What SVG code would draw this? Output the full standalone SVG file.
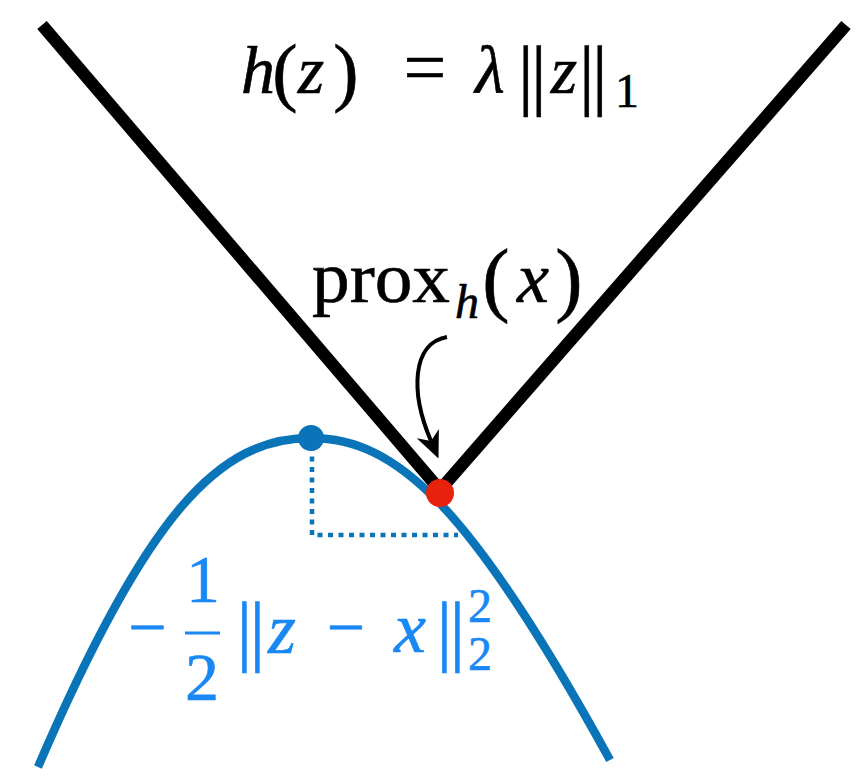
<svg xmlns="http://www.w3.org/2000/svg" width="864" height="776" viewBox="0 0 864 776">
<style>
text{font-family:'Liberation Serif','Times New Roman','DejaVu Serif',serif;text-anchor:middle}
.k{fill:#000;stroke:#000;stroke-width:0.6}
.b{fill:#1a88f4;stroke:#1a88f4;stroke-width:0.6}
.i{font-style:italic}
.bar{font-size:78px;letter-spacing:-2.5px}
</style>
<defs>
<marker id="ah" markerUnits="userSpaceOnUse" markerWidth="40" markerHeight="40" refX="0" refY="0" orient="auto" overflow="visible">
<path d="M19,0 L-8,-12 L0,0 L-8,12 Z" fill="#000"/>
</marker>
</defs>
<rect width="864" height="776" fill="#fff"/>
<g id="h-function">
<polyline points="42,25 440,490 846,25" fill="none" stroke="#000" stroke-width="12.5" stroke-linejoin="miter"/>
</g>
<g id="quadratic">
<path d="M38,767 C148,511 220,438 311,438 C396,438 470,505 610,760" fill="none" stroke="#0a74b9" stroke-width="8.5"/>
<path d="M312,446 L312,535 L458,535" fill="none" stroke="#0a74b9" stroke-width="4.5" stroke-dasharray="5 5.5"/>
</g>
<g id="x-point"><circle cx="311" cy="438" r="13" fill="#0a74b9"/></g>
<g id="prox-point"><circle cx="440" cy="493" r="14" fill="#e8210d"/></g>
<g id="connectors">
<path d="M447,337 C412,343 410,392 431,441" fill="none" stroke="#000" stroke-width="4" marker-end="url(#ah)"/>
</g>
<g id="label-h">
<text class="k" font-size="68">
<tspan class="i" x="258" y="93">h</tspan><tspan x="285" y="97" font-size="76">(</tspan><tspan class="i" x="311" y="93">z</tspan><tspan x="346" y="97" font-size="76">)</tspan><tspan x="425" y="93" font-size="76">=</tspan><tspan class="i" x="490" y="93">λ</tspan><tspan class="bar" x="531" y="100">||</tspan><tspan class="i" x="564" y="93">z</tspan><tspan class="bar" x="592" y="100">||</tspan><tspan x="627" y="107" font-size="48">1</tspan>
</text>
</g>
<g id="label-prox">
<text class="k" font-size="72">
<tspan x="381" y="302" textLength="138" lengthAdjust="spacingAndGlyphs">prox</tspan><tspan class="i" x="467" y="318" font-size="48">h</tspan><tspan x="496" y="306" font-size="82">(</tspan><tspan class="i" x="533" y="302">x</tspan><tspan x="569" y="306" font-size="82">)</tspan>
</text>
</g>
<g id="label-quadratic">
<text class="b" font-size="68">
<tspan x="147.5" y="650">−</tspan><tspan x="203" y="602">1</tspan><tspan x="202" y="700">2</tspan><tspan class="bar" x="249.5" y="656">||</tspan><tspan class="i" x="282" y="653" font-size="72">z</tspan><tspan x="346" y="650">−</tspan><tspan class="i" x="410" y="652" font-size="72">x</tspan><tspan class="bar" x="449.5" y="656">||</tspan><tspan x="480" y="622" font-size="48">2</tspan><tspan x="480" y="670" font-size="48">2</tspan>
</text>
<line x1="185" y1="633" x2="220" y2="633" stroke="#1a88f4" stroke-width="3"/>
</g>
</svg>
